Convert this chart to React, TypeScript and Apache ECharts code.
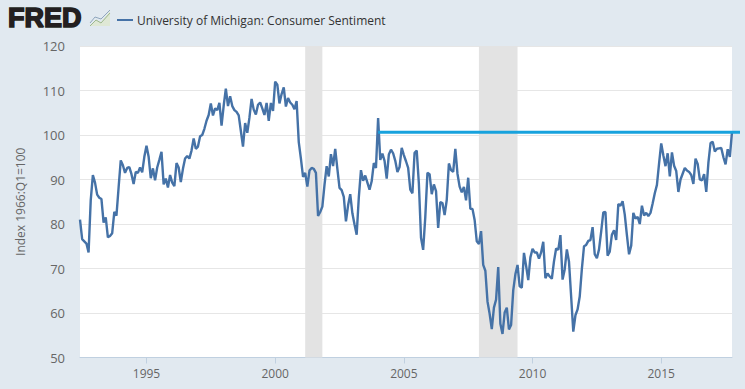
import React, { useEffect, useRef } from "react";
import * as echarts from "echarts";

const seriesName = "University of Michigan: Consumer Sentiment";
const yAxisTitle = "Index 1966:Q1=100";
const startYear = 1992;
const startMonth = 6;
const values1992 = [81.0, 76.6, 76.1, 75.6, 73.6, 85.3, 91.0];
const values1993 = [89.3, 86.6, 85.9, 85.6, 80.3, 81.5, 77.0, 77.3, 77.9, 82.7, 81.9, 88.2];
const values1994 = [94.3, 93.2, 91.5, 92.6, 92.8, 91.2, 89.0, 91.7, 91.5, 92.7, 91.6, 95.1];
const values1995 = [97.6, 95.1, 90.3, 92.5, 89.8, 92.7, 94.4, 96.2, 88.9, 90.2, 88.2, 91.0];
const values1996 = [89.3, 88.5, 93.7, 92.7, 89.4, 92.4, 94.7, 95.3, 94.7, 96.5, 99.2, 96.9];
const values1997 = [97.4, 99.7, 100.0, 101.4, 103.2, 104.5, 107.1, 104.4, 106.0, 105.6, 107.2, 102.1];
const values1998 = [106.6, 110.4, 106.5, 108.7, 106.5, 105.6, 105.2, 104.4, 100.9, 97.4, 102.7, 100.5];
const values1999 = [103.9, 108.1, 105.7, 104.6, 106.8, 107.3, 106.0, 104.5, 107.2, 103.2, 107.2, 105.4];
const values2000 = [112.0, 111.3, 107.1, 109.2, 110.7, 106.4, 108.3, 107.3, 106.8, 105.8, 107.6, 98.4];
const values2001 = [94.7, 90.6, 91.5, 88.4, 92.0, 92.6, 92.4, 91.5, 81.8, 82.7, 83.9, 88.8];
const values2002 = [93.0, 90.7, 95.7, 93.0, 96.9, 92.4, 88.1, 87.6, 86.1, 80.6, 84.2, 86.7];
const values2003 = [82.4, 79.9, 77.6, 86.0, 92.1, 89.7, 90.9, 89.3, 87.7, 89.6, 93.7, 92.6];
const values2004 = [103.8, 94.4, 95.8, 94.2, 90.2, 95.6, 96.7, 95.9, 94.2, 91.7, 92.8, 97.1];
const values2005 = [95.5, 94.1, 92.6, 87.7, 86.9, 96.0, 96.5, 89.1, 76.9, 74.2, 81.6, 91.5];
const values2006 = [91.2, 86.7, 88.9, 87.4, 79.1, 84.9, 84.7, 82.0, 85.4, 93.6, 92.1, 91.7];
const values2007 = [96.9, 91.3, 88.4, 87.1, 88.3, 85.3, 90.4, 83.4, 83.4, 80.9, 76.1, 75.5];
const values2008 = [78.4, 70.8, 69.5, 62.6, 59.8, 56.4, 61.2, 63.0, 70.3, 57.6, 55.3, 60.1];
const values2009 = [61.2, 56.3, 57.3, 65.1, 68.7, 70.8, 66.0, 65.7, 73.5, 70.6, 67.4, 72.5];
const values2010 = [74.4, 73.6, 73.6, 72.2, 73.6, 76.0, 67.8, 68.9, 68.2, 67.7, 71.6, 74.5];
const values2011 = [74.2, 77.5, 67.5, 69.8, 74.3, 71.5, 63.7, 55.8, 59.5, 60.8, 63.7, 69.9];
const values2012 = [75.0, 75.3, 76.2, 76.4, 79.3, 73.2, 72.3, 74.3, 78.3, 82.6, 82.7, 72.9];
const values2013 = [73.8, 77.6, 78.6, 76.4, 84.5, 84.1, 85.1, 82.1, 77.5, 73.2, 75.1, 82.5];
const values2014 = [81.2, 81.6, 80.0, 84.1, 81.9, 82.5, 81.8, 82.5, 84.6, 86.9, 88.8, 93.6];
const values2015 = [98.1, 95.4, 93.0, 95.9, 90.7, 96.1, 93.1, 91.9, 87.2, 90.0, 91.3, 92.6];
const values2016 = [92.0, 91.7, 91.0, 89.0, 94.7, 93.5, 90.0, 89.8, 91.2, 87.2, 93.8, 98.2];
const values2017 = [98.5, 96.3, 96.9, 97.0, 97.1, 95.0, 93.4, 96.8, 95.1, 100.7];
const recessions = [["2001-03", "2001-11"], ["2007-12", "2009-06"]];
const annotationStart = "2004-01";
const annotationValue = 100.6;

const values = [
  ...values1992, ...values1993, ...values1994, ...values1995, ...values1996, ...values1997,
  ...values1998, ...values1999, ...values2000, ...values2001, ...values2002, ...values2003,
  ...values2004, ...values2005, ...values2006, ...values2007, ...values2008, ...values2009,
  ...values2010, ...values2011, ...values2012, ...values2013, ...values2014, ...values2015,
  ...values2016, ...values2017,
];
const categories = values.map((_, i) => {
  const m = startYear * 12 + (startMonth - 1) + i;
  return `${Math.floor(m / 12)}-${String((m % 12) + 1).padStart(2, "0")}`;
});
const isTick = (_: number, c: string) => c.endsWith("-01") && Number(c.slice(0, 4)) % 5 === 0;
const FONT = "'Open Sans'";

export default function App() {
  const ref = useRef<HTMLDivElement>(null);
  useEffect(() => {
    document.body.style.margin = "0";
    const chart = echarts.init(ref.current!, undefined, { renderer: "svg" });
    chart.setOption({
      animation: false,
      backgroundColor: "#e1e9f0",
      textStyle: { fontFamily: FONT },
      grid: { left: 80, right: 13, top: 46, bottom: 31.5, show: true, backgroundColor: "#ffffff", borderWidth: 0 },
      legend: {
        left: 112, top: 9, icon: "rect", itemWidth: 16, itemHeight: 2, itemGap: 0,
        textStyle: { fontFamily: FONT, fontSize: 12, color: "#333333", padding: [0, 0, 0, -1] },
        data: [seriesName],
      },
      xAxis: {
        type: "category", data: categories, boundaryGap: false,
        axisLine: { lineStyle: { color: "#c0d0e0", width: 1 } },
        axisTick: { show: true, length: 6, interval: isTick, lineStyle: { color: "#c0d0e0" } },
        axisLabel: {
          interval: isTick, margin: 10, fontFamily: FONT, fontSize: 12, color: "#666666",
          formatter: (v: string) => v.slice(0, 4),
        },
        splitLine: { show: false },
      },
      yAxis: {
        type: "value", min: 50, max: 120, interval: 10,
        name: yAxisTitle, nameLocation: "middle", nameGap: 54,
        nameTextStyle: { fontFamily: FONT, fontSize: 12, color: "#666666" },
        axisLine: { show: false }, axisTick: { show: false },
        axisLabel: { margin: 15, fontFamily: FONT, fontSize: 13, color: "#666666" },
        splitLine: { lineStyle: { color: "#e6e6e6", width: 1 } },
      },
      series: [{
        name: seriesName, type: "line", data: values, showSymbol: false, symbol: "none",
        lineStyle: { color: "#4572a7", width: 2.4 }, itemStyle: { color: "#4572a7" },
        markArea: {
          silent: true, itemStyle: { color: "#e3e3e3" },
          data: recessions.map(([a, b]) => [{ xAxis: a }, { xAxis: b }]),
        },
      }],
    });
    const [x0, y0] = chart.convertToPixel({ seriesIndex: 0 }, [annotationStart, annotationValue]) as number[];
    chart.setOption({
      graphic: [
        { type: "text", x: 8, y: 17.5, style: { text: "FRED", fontFamily: "'Liberation Sans'", fontWeight: 900, fontSize: 27, fill: "#231f20", stroke: "#231f20", lineWidth: 1.6, verticalAlign: "middle" } },
        { type: "polygon", shape: { points: [[90, 26], [96, 20], [101, 22], [110, 11], [110, 26]] }, style: { fill: "#dfe8d5" } },
        { type: "polyline", shape: { points: [[90, 26], [96, 20], [101, 23], [110, 13]] }, style: { stroke: "#9db88f", lineWidth: 1, fill: "none" } },
        { type: "polyline", shape: { points: [[90, 23], [95, 17], [101, 19], [110, 10]] }, style: { stroke: "#8fa6bd", lineWidth: 1, fill: "none" } },
        { type: "line", shape: { x1: x0, y1: y0, x2: 740, y2: y0 }, style: { stroke: "#17a2dd", lineWidth: 3 }, z: 20 },
      ],
    });
    return () => chart.dispose();
  }, []);
  return <div ref={ref} style={{ position: "absolute", left: 0, top: 0, width: 745, height: 389 }} />;
}
